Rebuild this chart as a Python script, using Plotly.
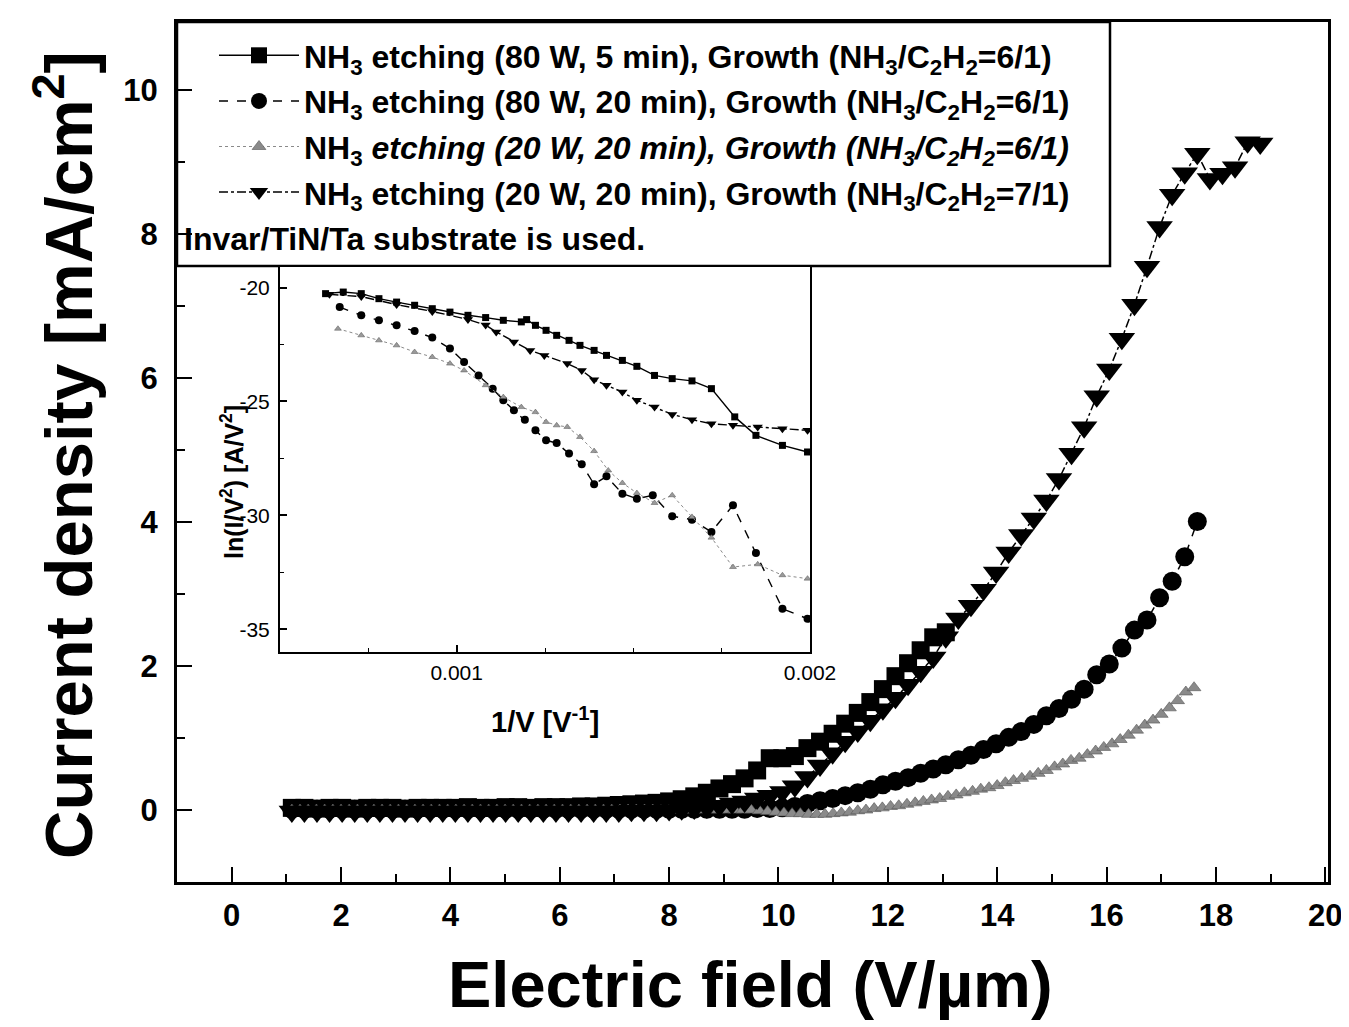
import plotly.graph_objects as go

# ---------------- main plot data (Electric field [V/um], Current density [mA/cm2]) -------------
field_sq = [1.10, 1.33, 1.56, 1.79, 2.02, 2.25, 2.48, 2.71, 2.94, 3.17, 3.40, 3.63, 3.86, 4.09,
            4.32, 4.55, 4.78, 5.01, 5.24, 5.47, 5.70, 5.93, 6.16, 6.39, 6.62, 6.85, 7.08, 7.31,
            7.54, 7.77, 8.00, 8.23, 8.46, 8.69, 8.92, 9.15, 9.38, 9.61, 9.84, 10.07, 10.30, 10.53,
            10.76, 10.99, 11.22, 11.45, 11.68, 11.91, 12.14, 12.37, 12.60, 12.83, 13.06]
j_sq = [0.03, 0.03, 0.02, 0.03, 0.03, 0.02, 0.03, 0.03, 0.03, 0.02, 0.03, 0.03, 0.03, 0.03,
        0.04, 0.03, 0.03, 0.04, 0.04, 0.03, 0.04, 0.04, 0.04, 0.05, 0.05, 0.06, 0.07, 0.08,
        0.09, 0.10, 0.12, 0.15, 0.19, 0.24, 0.30, 0.36, 0.44, 0.55, 0.72, 0.72, 0.75, 0.86,
        0.95, 1.06, 1.20, 1.35, 1.50, 1.68, 1.86, 2.04, 2.22, 2.40, 2.47]

field_ci = [1.10, 1.33, 1.56, 1.79, 2.02, 2.25, 2.48, 2.71, 2.94, 3.17, 3.40, 3.63, 3.86, 4.09,
            4.32, 4.55, 4.78, 5.01, 5.24, 5.47, 5.70, 5.93, 6.16, 6.39, 6.62, 6.85, 7.08, 7.31,
            7.54, 7.77, 8.00, 8.23, 8.46, 8.69, 8.92, 9.15, 9.38, 9.61, 9.84, 10.07, 10.30, 10.53,
            10.76, 10.99, 11.22, 11.45, 11.68, 11.91, 12.14, 12.37, 12.60, 12.83, 13.06, 13.29,
            13.52, 13.75, 13.98, 14.21, 14.44, 14.67, 14.90, 15.13, 15.36, 15.59, 15.82, 16.05,
            16.28, 16.51, 16.74, 16.97, 17.20, 17.43, 17.66]
j_ci = [0.01, 0.01, 0.01, 0.01, 0.01, 0.01, 0.01, 0.01, 0.01, 0.01, 0.01, 0.01, 0.01, 0.01,
        0.01, 0.01, 0.01, 0.01, 0.01, 0.01, 0.01, 0.01, 0.01, 0.01, 0.01, 0.01, 0.01, 0.01,
        0.01, 0.01, 0.01, 0.01, 0.01, 0.01, 0.01, 0.01, 0.01, 0.02, 0.02, 0.03, 0.05, 0.09,
        0.13, 0.16, 0.20, 0.24, 0.29, 0.35, 0.40, 0.45, 0.51, 0.57, 0.63, 0.70,
        0.76, 0.84, 0.92, 1.01, 1.09, 1.19, 1.31, 1.41, 1.54, 1.68, 1.88, 2.03,
        2.25, 2.50, 2.64, 2.95, 3.18, 3.52, 4.01]

field_tu = [1.10, 1.25, 1.40, 1.55, 1.70, 1.85, 2.00, 2.15, 2.30, 2.45, 2.60, 2.75, 2.90, 3.05,
            3.20, 3.35, 3.50, 3.65, 3.80, 3.95, 4.10, 4.25, 4.40, 4.55, 4.70, 4.85, 5.00, 5.15,
            5.30, 5.45, 5.60, 5.75, 5.90, 6.05, 6.20, 6.35, 6.50, 6.65, 6.80, 6.95, 7.10, 7.25,
            7.40, 7.55, 7.70, 7.85, 8.00, 8.15, 8.30, 8.45, 8.60, 8.75, 8.90, 9.05, 9.20, 9.35,
            9.50, 9.65, 9.80, 9.95, 10.10, 10.25, 10.40, 10.55, 10.70, 10.85, 11.00, 11.15, 11.30,
            11.45, 11.60, 11.75, 11.90, 12.05, 12.20, 12.35, 12.50, 12.65, 12.80,
            12.95, 13.10, 13.25, 13.40, 13.55, 13.70, 13.85, 14.00, 14.15, 14.30,
            14.45, 14.60, 14.75, 14.90, 15.05, 15.20, 15.35, 15.50, 15.65, 15.80,
            15.95, 16.10, 16.25, 16.40, 16.55, 16.70, 16.85, 17.00, 17.15, 17.30, 17.45, 17.60]
j_tu = [0.00, 0.00, 0.00, 0.00, 0.00, 0.00, 0.00, 0.00, 0.00, 0.00, 0.00, 0.00, 0.00, 0.00,
        0.00, 0.00, 0.00, 0.00, 0.00, 0.00, 0.00, 0.00, 0.00, 0.00, 0.00, 0.00, 0.00, 0.00,
        0.00, 0.00, 0.00, 0.00, 0.00, 0.00, 0.00, 0.00, 0.00, 0.00, 0.00, 0.00, 0.00, 0.00,
        0.00, 0.00, 0.00, 0.00, 0.00, 0.00, 0.00, 0.00, 0.00, 0.00, 0.00, 0.00, 0.00, 0.00,
        0.00, -0.01, -0.02, -0.03, -0.04, -0.05, -0.05, -0.06, -0.06, -0.06, -0.05, -0.04, -0.03,
        -0.01, 0.00, 0.02, 0.03, 0.05, 0.06, 0.08, 0.10, 0.12, 0.14,
        0.16, 0.19, 0.21, 0.24, 0.26, 0.29, 0.31, 0.34, 0.38, 0.41,
        0.44, 0.47, 0.51, 0.55, 0.60, 0.64, 0.69, 0.72, 0.77, 0.82,
        0.87, 0.92, 0.98, 1.04, 1.11, 1.18, 1.25, 1.33, 1.42, 1.52, 1.64, 1.70]

field_td = [1.10, 1.33, 1.56, 1.79, 2.02, 2.25, 2.48, 2.71, 2.94, 3.17, 3.40, 3.63, 3.86, 4.09,
            4.32, 4.55, 4.78, 5.01, 5.24, 5.47, 5.70, 5.93, 6.16, 6.39, 6.62, 6.85, 7.08, 7.31,
            7.54, 7.77, 8.00, 8.23, 8.46, 8.69, 8.92, 9.15, 9.38, 9.61, 9.84, 10.07, 10.30, 10.53,
            10.76, 10.99, 11.22, 11.45, 11.68, 11.91, 12.14, 12.37, 12.60, 12.83, 13.06, 13.29,
            13.52, 13.75, 13.98, 14.21, 14.44, 14.67, 14.90, 15.13, 15.36, 15.59, 15.82, 16.05,
            16.28, 16.51, 16.74, 16.97, 17.20, 17.43, 17.66, 17.89, 18.12, 18.35, 18.58, 18.81]
j_td = [-0.02, -0.02, -0.02, -0.02, -0.02, -0.02, -0.02, -0.02, -0.02, -0.02, -0.02, -0.02,
        -0.02, -0.02, -0.02, -0.02, -0.02, -0.02, -0.02, -0.02, -0.02, -0.02, -0.02, -0.02,
        -0.02, -0.02, -0.02, -0.01, -0.01, -0.01, 0.00, 0.01, 0.02, 0.04, 0.06, 0.09, 0.12,
        0.16, 0.20, 0.25, 0.33, 0.46, 0.62, 0.79, 0.95, 1.09, 1.24, 1.40, 1.56, 1.74, 1.92,
        2.12, 2.40, 2.66, 2.84, 3.06, 3.30, 3.58, 3.82, 4.05, 4.30, 4.60, 4.95, 5.32, 5.75,
        6.12, 6.55, 7.02, 7.55, 8.10, 8.55, 8.85, 9.12, 8.77, 8.84, 8.93, 9.28, 9.26]

# ---------------- inset data (1/V [1/V], ln(I/V^2)) ----------------
inv_sq = [0.000629, 0.000679, 0.000730, 0.000780, 0.000830, 0.000881, 0.000931, 0.000981,
          0.001032, 0.001082, 0.001132, 0.001183, 0.001198, 0.001223, 0.001253, 0.001283,
          0.001318, 0.001349, 0.001389, 0.001424, 0.001469, 0.001510, 0.001560, 0.001610,
          0.001666, 0.001721, 0.001787, 0.001847, 0.001922, 0.001993]
ln_sq = [-20.27, -20.20, -20.27, -20.49, -20.64, -20.78, -20.93, -21.08,
         -21.22, -21.32, -21.44, -21.51, -21.41, -21.66, -21.88, -22.10,
         -22.32, -22.54, -22.76, -22.98, -23.20, -23.46, -23.86, -24.00,
         -24.10, -24.44, -25.68, -26.49, -26.93, -27.22]

inv_ci = [0.000669, 0.000730, 0.000780, 0.000830, 0.000881, 0.000931, 0.000981, 0.001021,
          0.001062, 0.001102, 0.001132, 0.001162, 0.001193, 0.001223, 0.001253, 0.001283,
          0.001318, 0.001354, 0.001389, 0.001424, 0.001469, 0.001510, 0.001555, 0.001610,
          0.001666, 0.001721, 0.001782, 0.001847, 0.001922, 0.001993]
ln_ci = [-20.86, -21.22, -21.44, -21.66, -21.91, -22.20, -22.68, -23.27,
         -23.86, -24.44, -24.95, -25.39, -25.80, -26.27, -26.71, -26.83,
         -27.29, -27.76, -28.64, -28.29, -29.05, -29.27, -29.12, -30.04,
         -30.19, -30.73, -29.56, -31.65, -34.10, -34.54]

inv_tu = [0.000664, 0.000730, 0.000780, 0.000830, 0.000881, 0.000931, 0.000981, 0.001021,
          0.001082, 0.001132, 0.001183, 0.001223, 0.001253, 0.001283, 0.001313, 0.001349,
          0.001389, 0.001429, 0.001469, 0.001510, 0.001560, 0.001610, 0.001666, 0.001721,
          0.001782, 0.001852, 0.001922, 0.001993]
ln_tu = [-21.81, -22.10, -22.32, -22.54, -22.83, -23.05, -23.34, -23.64,
         -24.29, -24.81, -25.25, -25.47, -25.90, -26.05, -26.12, -26.56,
         -27.18, -28.03, -28.58, -29.02, -29.46, -29.12, -30.07, -30.98,
         -32.27, -32.15, -32.63, -32.78]

inv_td = [0.000640, 0.000730, 0.000830, 0.000931, 0.001032, 0.001082, 0.001112, 0.001162,
          0.001208, 0.001248, 0.001313, 0.001354, 0.001389, 0.001424, 0.001469, 0.001510,
          0.001560, 0.001610, 0.001666, 0.001721, 0.001782, 0.001852, 0.001922, 0.001993]
ln_td = [-20.30, -20.40, -20.75, -21.05, -21.40, -21.65, -21.95, -22.39,
         -22.76, -22.98, -23.34, -23.64, -24.05, -24.29, -24.59, -24.95,
         -25.25, -25.57, -25.80, -25.98, -26.05, -26.12, -26.20, -26.27]

names = [
    "NH<sub>3</sub> etching (80 W, 5 min), Growth (NH<sub>3</sub>/C<sub>2</sub>H<sub>2</sub>=6/1)",
    "NH<sub>3</sub> etching (80 W, 20 min), Growth (NH<sub>3</sub>/C<sub>2</sub>H<sub>2</sub>=6/1)",
    "NH<sub>3</sub> <i>etching (20 W, 20 min), Growth (NH<sub>3</sub>/C<sub>2</sub>H<sub>2</sub>=6/1)</i>",
    "NH<sub>3</sub> etching (20 W, 20 min), Growth (NH<sub>3</sub>/C<sub>2</sub>H<sub>2</sub>=7/1)",
]

x_ticks_main = [0, 2, 4, 6, 8, 10, 12, 14, 16, 18, 20]
y_ticks_main = [0, 2, 4, 6, 8, 10]
y_ticks_inset = [-20, -25, -30, -35]
x_ticks_inset = [0.001, 0.002]

FONT = "Liberation Sans"
BLACK = "#000000"
GRAY = "#8a8a8a"

fig = go.Figure()

# main traces
fig.add_trace(go.Scatter(x=field_sq, y=j_sq, mode="lines+markers", name=names[0],
                         legendgroup="a",
                         line=dict(color=BLACK, width=1.5),
                         marker=dict(symbol="square", size=18, color=BLACK)))
fig.add_trace(go.Scatter(x=field_ci, y=j_ci, mode="lines+markers", name=names[1],
                         legendgroup="b",
                         line=dict(color=BLACK, width=1.5, dash="dash"),
                         marker=dict(symbol="circle", size=19, color=BLACK)))
fig.add_trace(go.Scatter(x=field_tu, y=j_tu, mode="lines+markers", name=names[2],
                         legendgroup="c",
                         line=dict(color=GRAY, width=1, dash="dot"),
                         marker=dict(symbol="triangle-up", size=12, color=GRAY,
                                     line=dict(color="#555555", width=0.6))))
fig.add_trace(go.Scatter(x=field_td, y=j_td, mode="lines+markers", name=names[3],
                         legendgroup="d",
                         line=dict(color=BLACK, width=1.5, dash="dashdot"),
                         marker=dict(symbol="triangle-down", size=23, color=BLACK)))

# inset traces
fig.add_trace(go.Scatter(x=inv_sq, y=ln_sq, mode="lines+markers", xaxis="x2", yaxis="y2",
                         showlegend=False, line=dict(color=BLACK, width=1.4),
                         marker=dict(symbol="square", size=7, color=BLACK)))
fig.add_trace(go.Scatter(x=inv_ci, y=ln_ci, mode="lines+markers", xaxis="x2", yaxis="y2",
                         showlegend=False, line=dict(color=BLACK, width=1.4, dash="dash"),
                         marker=dict(symbol="circle", size=8, color=BLACK)))
fig.add_trace(go.Scatter(x=inv_tu, y=ln_tu, mode="lines+markers", xaxis="x2", yaxis="y2",
                         showlegend=False, line=dict(color=GRAY, width=1, dash="dot"),
                         marker=dict(symbol="triangle-up", size=6, color="#9a9a9a",
                                     line=dict(color="#555555", width=0.5))))
fig.add_trace(go.Scatter(x=inv_td, y=ln_td, mode="lines+markers", xaxis="x2", yaxis="y2",
                         showlegend=False, line=dict(color=BLACK, width=1.4, dash="dashdot"),
                         marker=dict(symbol="triangle-down", size=9, color=BLACK)))

# Page body has an 8 px margin; the figure is placed at (8, 8) in the window,
# so it is sized to end at the window edge and positions are given in window pixels.
OFF = 8
W, H = 1349 - OFF, 1027 - OFF
PL, PR, PT, PB = 177, 1328, 22, 882          # plot area in window pixels


def px_x(p):
    return (p - PL) / (PR - PL)


def px_y(p):
    return (PB - p) / (PB - PT)


fig.update_layout(
    width=W, height=H,
    margin=dict(l=PL - OFF, r=W - (PR - OFF), t=PT - OFF, b=H - (PB - OFF), pad=0,
                autoexpand=False),
    paper_bgcolor="white", plot_bgcolor="white",
    font=dict(family=FONT, color=BLACK),
    xaxis=dict(range=[-1, 20.05], showgrid=False, zeroline=False, automargin=False,
               showline=True, linewidth=3, linecolor=BLACK, mirror=True,
               ticks="inside", ticklen=15, tickwidth=2, tickcolor=BLACK,
               tickvals=x_ticks_main, ticktext=[str(v) for v in x_ticks_main],
               tickfont=dict(size=31, family=FONT, weight="bold"),
               ticklabelstandoff=4,
               minor=dict(dtick=1, tick0=0, ticks="inside", ticklen=8, tickwidth=2,
                          tickcolor=BLACK, showgrid=False)),
    yaxis=dict(range=[-1, 10.95], showgrid=False, zeroline=False, automargin=False,
               showline=True, linewidth=3, linecolor=BLACK, mirror=True,
               ticks="inside", ticklen=15, tickwidth=2, tickcolor=BLACK,
               tickvals=y_ticks_main, ticktext=[str(v) for v in y_ticks_main],
               tickfont=dict(size=31, family=FONT, weight="bold"),
               ticklabelstandoff=10,
               minor=dict(dtick=1, tick0=0, ticks="inside", ticklen=8, tickwidth=2,
                          tickcolor=BLACK, showgrid=False)),
    xaxis2=dict(domain=[px_x(280), px_x(810)], anchor="y2", range=[0.0005, 0.002],
                showgrid=False, zeroline=False, automargin=False,
                showline=True, linewidth=2,
                linecolor=BLACK, mirror=True, ticks="inside", ticklen=7, tickwidth=1.5,
                tickcolor=BLACK, tickvals=x_ticks_inset,
                ticktext=["0.001", "0.002"], tickfont=dict(size=21, family=FONT),
                ticklabelstandoff=1,
                minor=dict(dtick=0.00025, tick0=0, ticks="inside", ticklen=4,
                           tickwidth=1, tickcolor=BLACK, showgrid=False)),
    yaxis2=dict(domain=[px_y(652), px_y(267)], anchor="x2", range=[-36.0, -19.1],
                showgrid=False, zeroline=False, automargin=False,
                showline=True, linewidth=2,
                linecolor=BLACK, mirror=True, ticks="inside", ticklen=7, tickwidth=1.5,
                tickcolor=BLACK, tickvals=y_ticks_inset,
                ticktext=["-20", "-25", "-30", "-35"], tickfont=dict(size=21, family=FONT),
                ticklabelstandoff=4,
                minor=dict(dtick=2.5, tick0=0, ticks="inside", ticklen=4,
                           tickwidth=1, tickcolor=BLACK, showgrid=False)),
    legend=dict(x=px_x(214), y=px_y(28), xanchor="left", yanchor="top",
                bgcolor="rgba(0,0,0,0)", borderwidth=0,
                font=dict(size=32, family=FONT, weight="bold", color=BLACK),
                tracegroupgap=1, itemwidth=80),
    showlegend=True,
)

# legend frame and the extra note line
fig.add_shape(type="rect", xref="paper", yref="paper",
              x0=0, x1=px_x(1110), y0=px_y(266), y1=1,
              line=dict(color=BLACK, width=2.5), fillcolor="white", layer="below")

fig.add_annotation(text="Invar/TiN/Ta substrate is used.", xref="paper", yref="paper",
                   x=px_x(182), y=px_y(239), xanchor="left", yanchor="middle",
                   showarrow=False, font=dict(size=32, family=FONT, weight="bold"))

# axis titles
fig.add_annotation(text="Electric field (V/\u00b5m)", xref="paper", yref="paper",
                   x=px_x(750), y=px_y(984), xanchor="center", yanchor="middle",
                   showarrow=False, font=dict(size=65, family=FONT, weight="bold"))
fig.add_annotation(text="Current density [mA/cm<sup>2</sup>]", xref="paper", yref="paper",
                   x=px_x(64), y=px_y(455), xanchor="center", yanchor="middle",
                   textangle=-90, showarrow=False,
                   font=dict(size=67, family=FONT, weight="bold"))
fig.add_annotation(text="ln(I/V<sup>2</sup>) [A/V<sup>2</sup>]", xref="paper", yref="paper",
                   x=px_x(232), y=px_y(482), xanchor="center", yanchor="middle",
                   textangle=-90, showarrow=False,
                   font=dict(size=25, family=FONT, weight="bold"))
fig.add_annotation(text="1/V [V<sup>-1</sup>]", xref="paper", yref="paper",
                   x=px_x(545), y=px_y(720), xanchor="center", yanchor="middle",
                   showarrow=False, font=dict(size=29, family=FONT, weight="bold"))

fig.write_html("out.html")
